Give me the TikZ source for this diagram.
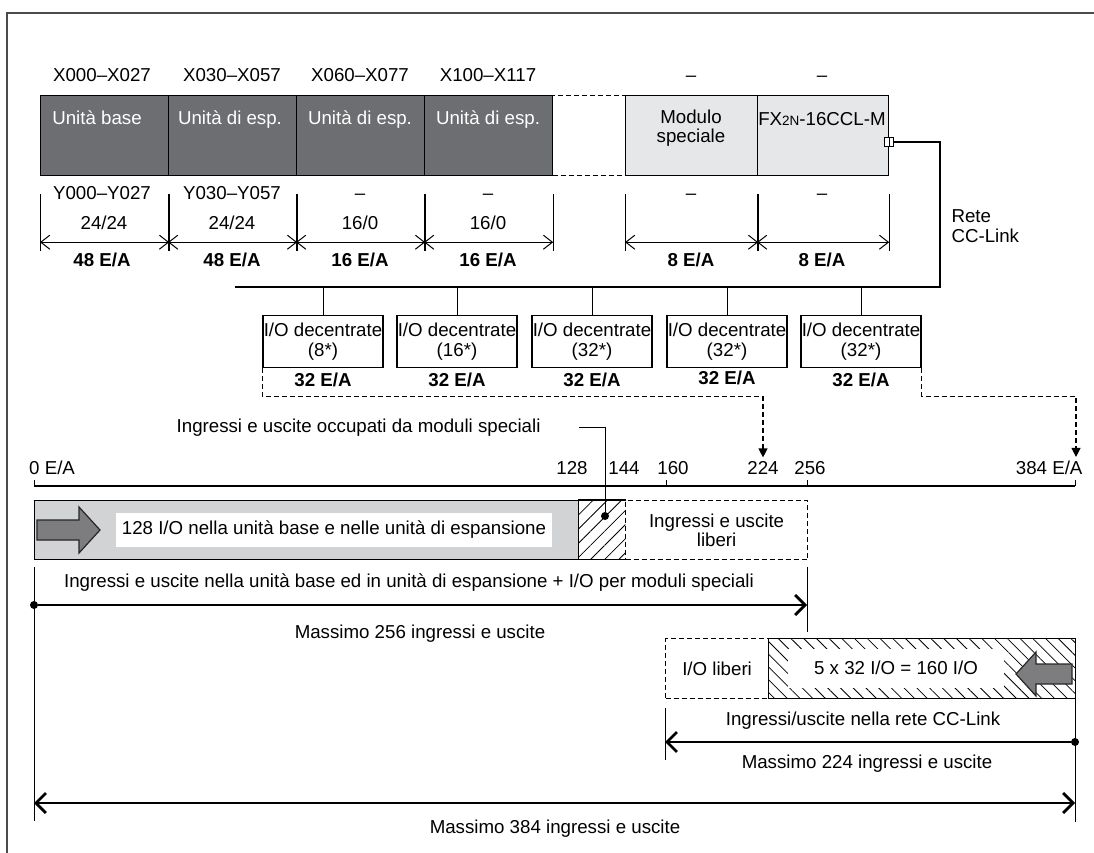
\documentclass[tikz,border=0pt]{standalone}
\usepackage{fontspec}
\setmainfont{Liberation Sans}
\usetikzlibrary{arrows.meta,patterns.meta,positioning}
\definecolor{UnitGray}{RGB}{109,110,113}
\definecolor{ModuleGray}{RGB}{230,231,232}
\definecolor{BarGray}{RGB}{209,211,212}
\definecolor{ArrowGray}{RGB}{125,125,128}
\definecolor{FrameGray}{RGB}{75,75,75}

\begin{document}
\begin{tikzpicture}[x=1pt,y=-1pt,
    font=\fontsize{18.7}{19.5}\selectfont,
    unitbox/.style={draw=black,line width=1.2pt,fill=UnitGray,minimum width=128,minimum height=80,inner sep=0,anchor=north west},
    modbox/.style={unitbox,fill=ModuleGray},
    gapbox/.style={draw=black,line width=1.2pt,dash pattern=on 5pt off 3pt,minimum width=73,minimum height=80,inner sep=0,anchor=north west},
    lbl/.style={anchor=base},
    wlbl/.style={anchor=base,text=white},
    boldlbl/.style={anchor=base,font=\fontsize{18.7}{19.5}\selectfont\bfseries},
    iobox/.style={draw=black,line width=1.2pt,fill=white,minimum width=120,minimum height=52,inner sep=0,anchor=north,align=center},
    freebox/.style={draw=black,line width=1.2pt,dash pattern=on 5pt off 3pt,inner sep=0,anchor=north west,align=center},
    dimtick/.style={line width=1pt},
    dim/.style={line width=1pt,{Straight Barb[length=9pt,width=14pt]}-{Straight Barb[length=9pt,width=14pt]}},
    bigarrow/.style={line width=2.8pt},
    bighead/.tip={Straight Barb[length=10pt,width=20pt]},
    dot/.style={circle,fill=black,inner sep=0,minimum size=8},
    blockarrow/.style={fill=ArrowGray,draw=black!85,line width=1.2pt,line join=miter},
    leftdash/.style={line width=1.2pt,dash pattern=on 5pt off 3pt,-{Triangle[length=9pt,width=9pt]}}
  ]
  \useasboundingbox (0,0) rectangle (1094,853);
  \draw[FrameGray,line width=2pt] (7,853) -- (7,13) -- (1094,13);

  % base unit, expansion units and special modules
  \node[unitbox] (ub) at (40,95) {};
  \node[unitbox] (ue1) at (168,95) {};
  \node[unitbox] (ue2) at (296,95) {};
  \node[unitbox] (ue3) at (424,95) {};
  \node[gapbox] (gap) at (552,95) {};
  \node[modbox,minimum width=132] (ms) at (625,95) {};
  \node[modbox,minimum width=131] (ccl) at (757,95) {};

  \node[wlbl] (tub) at (97,125) {Unità base};
  \node[wlbl] (tue1) at (230,125) {Unità di esp.};
  \node[wlbl] (tue2) at (360,125) {Unità di esp.};
  \node[wlbl] (tue3) at (488,125) {Unità di esp.};
  \node[align=center] (tms) at (691,128) {Modulo\\speciale};
  \node[lbl] (tccl) at (822,126) {FX{\fontsize{13.5}{13.5}\selectfont 2N}-16CCL-M};

  \node[lbl] (x1) at (102,82) {X000–X027};
  \node[lbl] (x2) at (232,82) {X030–X057};
  \node[lbl] (x3) at (360,82) {X060–X077};
  \node[lbl] (x4) at (488,82) {X100–X117};
  \node[lbl] (x5) at (691,82) {–};
  \node[lbl] (x6) at (822,82) {–};

  \node[lbl] (y1) at (102,200) {Y000–Y027};
  \node[lbl] (y2) at (232,200) {Y030–Y057};
  \node[lbl] (y3) at (360,200) {–};
  \node[lbl] (y4) at (488,200) {–};
  \node[lbl] (y5) at (691,200) {–};
  \node[lbl] (y6) at (822,200) {–};

  \node[lbl] (n1) at (104,229) {24/24};
  \node[lbl] (n2) at (232,229) {24/24};
  \node[lbl] (n3) at (360,229) {16/0};
  \node[lbl] (n4) at (488,229) {16/0};

  \foreach \b in {ub,ue1,ue2,ue3,ms,ccl}{
    \draw[dimtick] (\b.south west) ++(0,18) -- ++(0,57);
    \draw[dimtick] (\b.south east) ++(0,18) -- ++(0,57);
    \draw[dim] ([yshift=-66pt]\b.south west) -- ([yshift=-66pt]\b.south east);
  }

  \node[boldlbl] (e1) at (102,266) {48 E/A};
  \node[boldlbl] (e2) at (232,266) {48 E/A};
  \node[boldlbl] (e3) at (360,266) {16 E/A};
  \node[boldlbl] (e4) at (488,266) {16 E/A};
  \node[boldlbl] (e5) at (691,266) {8 E/A};
  \node[boldlbl] (e6) at (822,266) {8 E/A};

  % CC-Link network
  \node[draw=black,fill=white,line width=1pt,minimum size=9,inner sep=0] (port) at (ccl.east |- 0,142) {};
  \draw[line width=.8pt] (port.north) -- (port.south);
  \coordinate (busR) at (940,287);
  \coordinate (busL) at (235,287);
  \draw[bigarrow] (port.east) -| (busR) -- (busL);
  \node[anchor=west,align=left] (rete) at (948,226) {Rete\\CC-Link};

  \node[iobox] (io1) at (323,315) {I/O decentrate\\(8*)};
  \node[iobox] (io2) at (457,315) {I/O decentrate\\(16*)};
  \node[iobox] (io3) at (592,315) {I/O decentrate\\(32*)};
  \node[iobox] (io4) at (727,315) {I/O decentrate\\(32*)};
  \node[iobox] (io5) at (861,315) {I/O decentrate\\(32*)};
  \foreach \b in {io1,io2,io3,io4,io5}
    \draw[line width=1pt] (\b.north) -- (\b.north |- busL);

  \node[boldlbl] (r1) at (323,386) {32 E/A};
  \node[boldlbl] (r2) at (457,386) {32 E/A};
  \node[boldlbl] (r3) at (592,386) {32 E/A};
  \node[boldlbl] (r4) at (727,384) {32 E/A};
  \node[boldlbl] (r5) at (861,386) {32 E/A};

  % address axis
  \coordinate (a0) at (34,486);
  \coordinate (a160) at (666,486);
  \coordinate (a256) at (807,486);
  \coordinate (a384) at (1075,486);
  \draw[line width=1.2pt] (a0) -- (a384);
  \foreach \t in {a0,a160,a256,a384}
    \draw[line width=1pt] (\t) -- ++(0,-6);
  \node[anchor=base west,inner sep=0] (l0) at (29,474) {0 E/A};
  \node[lbl] (l128) at (572,474) {128};
  \node[lbl] (l144) at (624,474) {144};
  \node[lbl] (l160) at (673,474) {160};
  \node[lbl] (l224) at (763,474) {224};
  \node[lbl] (l256) at (810,474) {256};
  \node[anchor=base east] (l384) at (1086,474) {384 E/A};

  \draw[leftdash] (io1.south west) -- ++(0,28) -| (l224.north);
  \draw[leftdash] (io5.south east) -- ++(0,28) -| ([xshift=-10pt]l384.north east);

  % programmable controller side
  \node[draw=black,line width=1.2pt,fill=BarGray,anchor=north west,minimum width=544,minimum height=59,inner sep=0] (used) at (34,500) {};
  \node[pattern={Lines[angle=45,distance=10pt,line width=.8pt]},anchor=north west,minimum width=47,minimum height=59,inner sep=0] (spec) at (578,500) {};
  \draw[line width=1.2pt] (spec.north west) -- (spec.north east) (spec.south west) -- (spec.south east);
  \node[freebox,minimum width=182,minimum height=59] (free) at (625,500) {Ingressi e uscite\\liberi};
  \draw[blockarrow] (37,520) -- (79,520) -- (79,507) -- (100,530) -- (79,553) -- (79,540) -- (37,540) -- cycle;
  \node[fill=white,minimum width=436,minimum height=34,inner sep=0] (t128) at (334,530) {128 I/O nella unità base e nelle unità di espansione};

  \node[anchor=base east] (toccup) at (544,432) {Ingressi e uscite occupati da moduli speciali};
  \node[dot] (pin) at (605,516) {};
  \draw[line width=1pt] (toccup.east) ++(35,0) -| (pin);

  \draw[dimtick] (34,567) -- (34,821);
  \draw[dimtick] (807,567) -- (807,632);
  \node[lbl] (tsum) at (409,587) {Ingressi e uscite nella unità base ed in unità di espansione + I/O per moduli speciali};
  \node[dot] (s256) at (34,605) {};
  \coordinate (e256) at (807,605);
  \draw[bigarrow,-{bighead}] (s256) -- (e256);
  \node[lbl] (m256) at (420,638) {Massimo 256 ingressi e uscite};

  % CC-Link side
  \node[freebox,minimum width=103,minimum height=60] (iofree) at (665,638) {I/O liberi};
  \node[draw=black,line width=1.2pt,pattern={Lines[angle=-45,distance=9pt,line width=.8pt]},anchor=north west,minimum width=307,minimum height=60,inner sep=0] (ionet) at (768,638) {};
  \node[fill=white,minimum width=216,minimum height=39,inner sep=0] (t160) at (896,668) {5 x 32 I/O = 160 I/O};
  \draw[blockarrow] (1072,664) -- (1036,664) -- (1036,652) -- (1016,674) -- (1036,696) -- (1036,684) -- (1072,684) -- cycle;

  \draw[dimtick] (665,708) -- (665,760);
  \draw[dimtick] (1075,698) -- (1075,822);
  \node[lbl] (tnet) at (863,725) {Ingressi/uscite nella rete CC-Link};
  \node[dot] (s224) at (1075,742) {};
  \coordinate (e224) at (665,742);
  \draw[bigarrow,-{bighead}] (s224) -- (e224);
  \node[lbl] (m224) at (867,768) {Massimo 224 ingressi e uscite};

  \coordinate (s384) at (34,803);
  \coordinate (e384) at (1075,803);
  \draw[bigarrow,{bighead}-{bighead}] (s384) -- (e384);
  \node[lbl] (m384) at (555,833) {Massimo 384 ingressi e uscite};
\end{tikzpicture}
\end{document}
